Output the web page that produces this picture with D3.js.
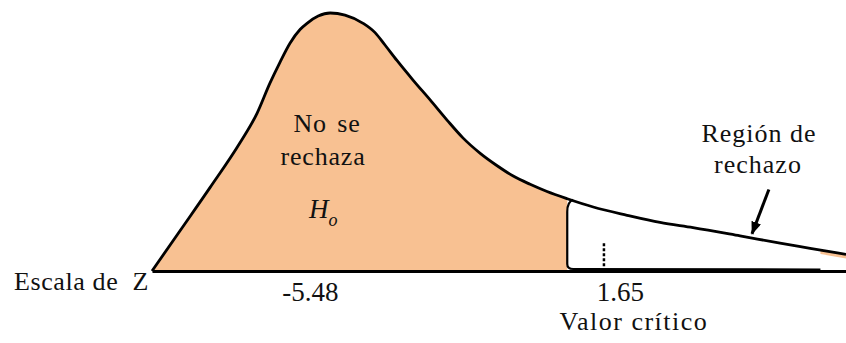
<!DOCTYPE html>
<html>
<head>
<meta charset="utf-8">
<script src="https://cdn.jsdelivr.net/npm/d3@7"></script>
<style>
    body { margin: 0; background: #fff; }
    text { font-family: "Liberation Serif", "Times New Roman", serif; fill: #111; }
</style>
</head>
<body>
<div id="chart"></div>
<script>
// curve (z scale, relative density)
var zValues = [-9.31, -8.63, -7.90, -7.18, -6.76, -6.45, -6.21, -5.96, -5.72, -5.55, -5.28, -4.99, -4.63,
               -4.19, -3.90, -3.66, -3.37, -2.98, -2.57, -2.15, -1.77, -1.35, -0.94, -0.55, -0.14, 0.27,
               0.76, 1.39, 2.21, 3.01, 3.81, 4.95, 5.92, 6.65, 7.52];
var density = [0, 0.039, 0.081, 0.124, 0.153, 0.182, 0.202, 0.221, 0.234, 0.240, 0.247, 0.250, 0.248,
               0.240, 0.231, 0.219, 0.204, 0.185, 0.166, 0.146, 0.129, 0.114, 0.102, 0.092, 0.084, 0.077,
               0.070, 0.062, 0.054, 0.047, 0.042, 0.034, 0.027, 0.022, 0.016];
var tickValues = [-5.48, 1.65];
var tickLabels = ["-5.48", "1.65"];
var zCritical = 1.65;
var zRegionStart = 0.76;
var zRegionEnd = 6.9;

function init() {
    var w = 846;
    var h = 343;
    var data = zValues.map(function(z, i) { return { z: z, d: density[i] }; });

    var svg = d3.select("#chart")
        .append("svg")
        .attr("width", w)
        .attr("height", h);

    var xScale = d3.scaleLinear()
        .domain([d3.min(zValues), d3.max(zValues)])
        .range([152, 846]);

    var yScale = d3.scaleLinear()
        .domain([0, 0.25])
        .range([271, 13]);

    var area = d3.area()
        .curve(d3.curveMonotoneX)
        .x(function(d) { return xScale(d.z); })
        .y0(yScale(0))
        .y1(function(d) { return yScale(d.d); });

    var line = d3.line()
        .curve(d3.curveMonotoneX)
        .x(function(d) { return xScale(d.z); })
        .y(function(d) { return yScale(d.d); });

    var defs = svg.append("defs");
    defs.append("clipPath").attr("id", "reject")
        .append("rect")
        .attr("x", xScale(zRegionStart))
        .attr("y", 0)
        .attr("width", xScale(zRegionEnd) - xScale(zRegionStart))
        .attr("height", h);
    defs.append("clipPath").attr("id", "tail")
        .append("rect")
        .attr("x", xScale(zRegionEnd) - 1)
        .attr("y", 0)
        .attr("width", w)
        .attr("height", h);
    defs.append("marker")
        .attr("id", "arrow")
        .attr("markerUnits", "userSpaceOnUse")
        .attr("markerWidth", 14)
        .attr("markerHeight", 12)
        .attr("refX", 12)
        .attr("refY", 5)
        .attr("orient", "auto")
        .append("path")
        .attr("d", "M0,0 L13,5 L0,10 Z")
        .attr("fill", "#000");

    // acceptance area
    svg.append("path")
        .datum(data)
        .attr("d", area)
        .attr("fill", "#f8c192");

    // rejection area
    svg.append("path")
        .datum(data)
        .attr("clip-path", "url(#reject)")
        .attr("d", area.y0(yScale(0) - 1))
        .attr("fill", "#fff");

    svg.append("path")
        .datum(data)
        .attr("clip-path", "url(#tail)")
        .attr("d", d3.area()
            .curve(d3.curveMonotoneX)
            .x(function(d) { return xScale(d.z); })
            .y0(yScale(0) - 1)
            .y1(function(d) { return yScale(d.d) + 4; }))
        .attr("fill", "#fff");

    // outline of rejection region
    var x0 = xScale(zRegionStart);
    var yTop = yScale(0.068);
    var yBot = yScale(0) - 2;
    var p = d3.path();
    p.moveTo(x0 + 6, yTop - 1);
    p.quadraticCurveTo(x0, yTop + 1, x0, yTop + 11);
    p.lineTo(x0, yBot - 5);
    p.quadraticCurveTo(x0, yBot, x0 + 6, yBot);
    p.lineTo(xScale(zRegionEnd), yBot + 0.5);
    svg.append("path")
        .attr("d", p.toString())
        .attr("fill", "none")
        .attr("stroke", "#000")
        .attr("stroke-width", 2.2);

    svg.append("path")
        .datum(data)
        .attr("d", line)
        .attr("fill", "none")
        .attr("stroke", "#000")
        .attr("stroke-width", 2.8);

    // critical value mark
    svg.append("line")
        .attr("x1", xScale(zCritical))
        .attr("x2", xScale(zCritical))
        .attr("y1", yScale(0.027))
        .attr("y2", yScale(0) - 3)
        .attr("stroke", "#000")
        .attr("stroke-width", 2.5)
        .attr("stroke-dasharray", "3,2");

    // z axis
    var xAxis = d3.axisBottom(xScale)
        .tickValues(tickValues)
        .tickFormat(function(d, i) { return tickLabels[i]; })
        .tickSize(0)
        .tickSizeOuter(0);
    var gx = svg.append("g")
        .attr("class", "x axis")
        .attr("transform", "translate(0," + yScale(0) + ")")
        .call(xAxis);
    gx.select(".domain").attr("stroke", "#000").attr("stroke-width", 3);
    gx.selectAll(".tick text")
        .attr("y", 30)
        .attr("dy", null)
        .attr("dx", function(d, i) { return i === 1 ? 16 : 0; })
        .style("font-family", "'Liberation Serif', serif")
        .style("font-size", "27px")
        .attr("fill", "#111");

    svg.append("text")
        .attr("x", 149)
        .attr("y", 290)
        .attr("text-anchor", "end")
        .style("white-space", "pre")
        .style("font-size", "26px")
        .style("letter-spacing", "0.6px")
        .text("Escala de  Z");

    svg.append("text")
        .attr("x", xScale(zCritical) + 30)
        .attr("y", 330)
        .attr("text-anchor", "middle")
        .style("font-size", "26px")
        .style("letter-spacing", "1.5px")
        .text("Valor crítico");

    var inner = svg.append("g").style("font-size", "26px").style("letter-spacing", "0.8px")
        .attr("text-anchor", "middle");
    inner.append("text").attr("x", 327).attr("y", 132).style("word-spacing", "3px").text("No se");
    inner.append("text").attr("x", 323).attr("y", 165).text("rechaza");

    var ho = svg.append("text")
        .attr("x", 309)
        .attr("y", 218)
        .style("font-size", "27px")
        .style("font-style", "italic");
    ho.append("tspan").text("H");
    ho.append("tspan").attr("dy", 8).style("font-size", "18px").text("o");

    var reg = svg.append("g").style("font-size", "26px").style("letter-spacing", "1px")
        .attr("text-anchor", "middle");
    reg.append("text").attr("x", 759).attr("y", 142).text("Región de");
    reg.append("text").attr("x", 758).attr("y", 173).text("rechazo");

    // arrow to the rejection tail
    svg.append("line")
        .attr("x1", xScale(5.65))
        .attr("y1", yScale(0.079))
        .attr("x2", xScale(5.24))
        .attr("y2", yScale(0.036))
        .attr("stroke", "#000")
        .attr("stroke-width", 3)
        .attr("marker-end", "url(#arrow)");
}

window.onload = init;
</script>
</body>
</html>
